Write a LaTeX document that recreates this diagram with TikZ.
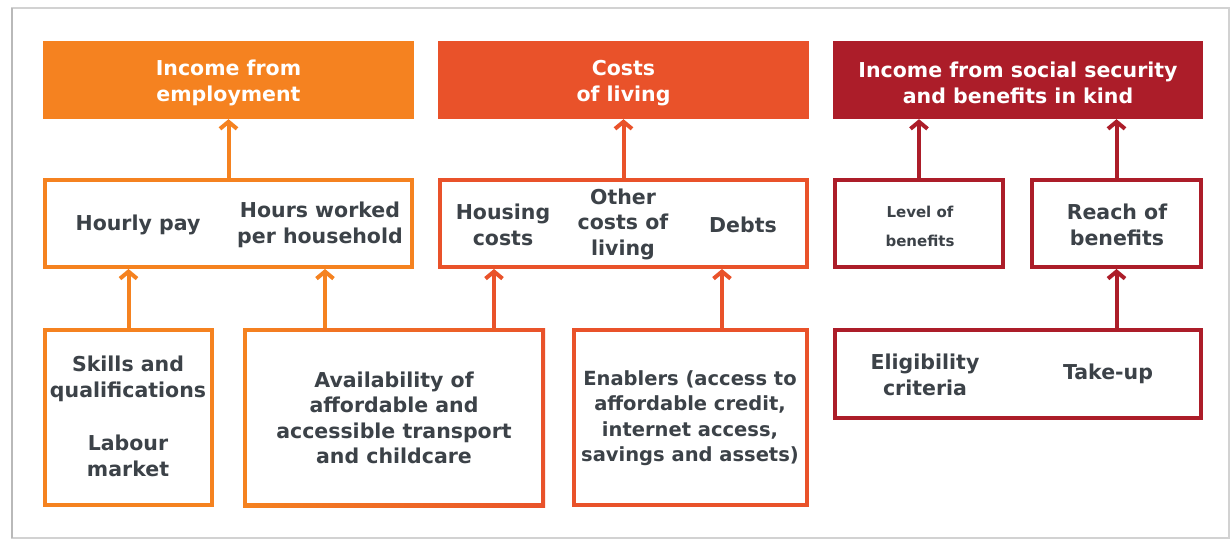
\documentclass[tikz,border=0pt]{standalone}
\usepackage{fontspec}
\setmainfont{DejaVu Sans}
\usetikzlibrary{arrows.meta,calc}
\definecolor{cA}{HTML}{F58220}
\definecolor{cB}{HTML}{E9522A}
\definecolor{cC}{HTML}{AC1D29}
\definecolor{txt}{HTML}{3C4248}
\begin{document}
\begin{tikzpicture}[x=1pt,y=-1pt,
  head/.style={rectangle, inner sep=0, minimum height=78pt},
  headtxt/.style={text=white, inner sep=0,
    font=\fontsize{20.5}{26}\bfseries\selectfont, align=center},
  frame/.style={rectangle, inner sep=0, line width=4pt, fill=white},
  lbl/.style={text=txt, font=\fontsize{20.5}{25.5}\bfseries\selectfont, align=center, inner sep=0},
  small/.style={text=txt, font=\fontsize{15}{29}\bfseries\selectfont, align=center, inner sep=0},
  arr/.style={line width=4pt, -{Straight Barb[length=7pt,width=17pt]}},
]
\useasboundingbox (0,0) rectangle (1231,541);
\fill[white] (0,0) rectangle (1231,541);
% outer frame of the image
\draw[gray!35, line width=1.5pt] (12,8) rectangle (1229,538);
\draw[gray!55, line width=2.5pt] (12,8) -- (12,538);

% top headers
\node[head, fill=cA, minimum width=371pt] (A) at (228.5,80) {};
\node[head, fill=cB, minimum width=371pt] (B) at (623.5,80) {};
\node[head, fill=cC, minimum width=370pt] (C) at (1018,80) {};
\node[headtxt] (Atxt) at (228.5,83) {Income from\\employment};
\node[headtxt] (Btxt) at (623.5,83) {Costs\\of living};
\node[headtxt] (Ctxt) at (1018,83) {Income from social security\\and benefits in kind};

% second row
\node[frame, draw=cA, minimum width=367pt, minimum height=87pt] (hourly) at (228.5,223.5) {};
\node[frame, draw=cB, minimum width=367pt, minimum height=87pt] (housing) at (623.5,223.5) {};
\node[frame, draw=cC, minimum width=168pt, minimum height=87pt] (level) at (919,223.5) {};
\node[frame, draw=cC, minimum width=169pt, minimum height=87pt] (reach) at (1116.5,223.5) {};

\node[lbl] (hourlyT) at (138,225) {Hourly pay};
\node[lbl] (hoursT) at (320,225) {Hours worked\\per household};
\node[lbl] (housingT) at (503,225) {Housing\\costs};
\node[lbl] (otherT) at (623,224) {Other\\costs of\\living};
\node[lbl] (debtsT) at (743,225) {Debts};
\node[small] (levelT) at (920,226) {Level of\\benefits};
\node[lbl] (reachT) at (1117,225) {Reach of\\benefits};

% third row
\node[frame, draw=cA, minimum width=167pt, minimum height=175pt] (skills) at (128.5,417.5) {};
\node[rectangle, inner sep=0, minimum width=302pt, minimum height=179pt,
  left color=cA, right color=cB,
  path picture={\fill[white] ([shift={(4pt,4pt)}]path picture bounding box.south west)
     rectangle ([shift={(-4pt,-4pt)}]path picture bounding box.north east);}]
  (avail) at (394,417.5) {};
\node[lbl] (availT) at (394,418) {Availability of\\affordable and\\accessible transport\\and childcare};
\node[frame, draw=cB, minimum width=233pt, minimum height=175pt] (enablers) at (690.5,417.5) {};
\node[lbl, font=\fontsize{19.5}{25.5}\bfseries\selectfont] (enablersT) at (690,418)
  {Enablers (access to\\affordable credit,\\internet access,\\savings and assets)};
\node[frame, draw=cC, minimum width=366pt, minimum height=88pt] (elig) at (1018,374) {};

\node[lbl] (skillsT) at (128,379) {Skills and\\qualifications};
\node[lbl] (labourT) at (128,456) {Labour\\market};
\node[lbl] (eligT) at (925,375) {Eligibility\\criteria};
\node[lbl] (takeT) at (1108,374) {Take-up};

% arrow positions
\coordinate (p1) at (325,300);
\coordinate (p2) at (494,300);
\coordinate (p3) at (722,300);

% arrows to headers
\draw[arr, cA] (hourly.north) -- (A.south);
\draw[arr, cB] (housing.north) -- (B.south);
\draw[arr, cC] (level.north) -- (level.north |- C.south);
\draw[arr, cC] (reach.north) -- (reach.north |- C.south);

% arrows to second row
\draw[arr, cA] (skills.north) -- (skills.north |- hourly.south);
\draw[arr, cA] (p1 |- avail.north) -- (p1 |- hourly.south);
\draw[arr, cB] (p2 |- avail.north) -- (p2 |- housing.south);
\draw[arr, cB] (p3 |- enablers.north) -- (p3 |- housing.south);
\draw[arr, cC] (reach.south |- elig.north) -- (reach.south);
\end{tikzpicture}
\end{document}
